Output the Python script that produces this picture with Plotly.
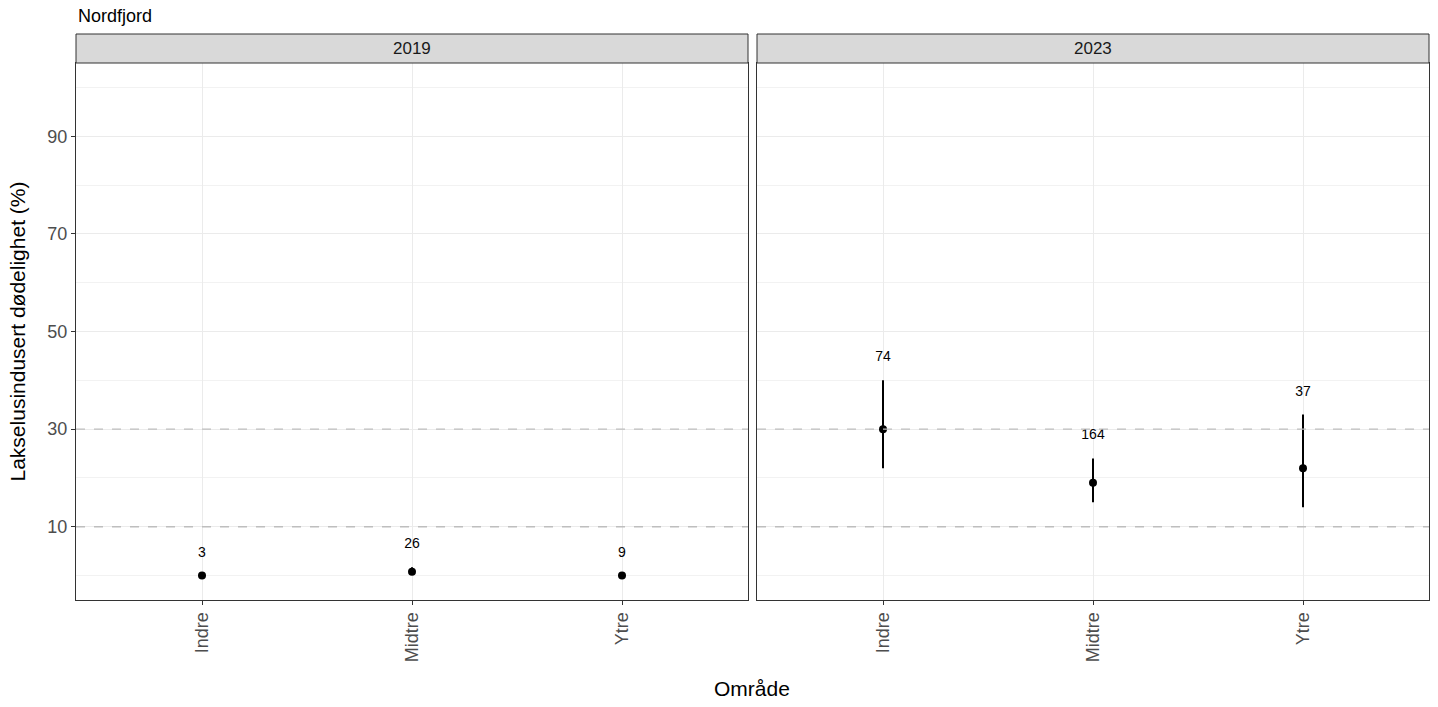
import plotly.graph_objects as go

# Data
omrader = ["Indre", "Midtre", "Ytre"]
years = ["2019", "2023"]
est_2019 = [0, 0.8, 0]
lower_2019 = [0, 0.4, 0]
upper_2019 = [0, 1.7, 0]
n_2019 = [3, 26, 9]
est_2023 = [30, 19, 22]
lower_2023 = [22, 15, 14]
upper_2023 = [40, 24, 33]
n_2023 = [74, 164, 37]
ref_lines = [10, 30]
y_ticks = [10, 30, 50, 70, 90]
y_minor = [0, 20, 40, 60, 80, 100]

FONT = "Liberation Sans, Arial, sans-serif"
W, H = 1438, 707
L, R, T, B = 76, 9, 63, 107
pw = W - L - R
ph = H - T - B

fig = go.Figure()

panels = [
    ("x", "y", est_2019, lower_2019, upper_2019, n_2019),
    ("x2", "y2", est_2023, lower_2023, upper_2023, n_2023),
]
for xa, ya, est, lo, up, n in panels:
    fig.add_trace(go.Scatter(
        x=omrader, y=est, xaxis=xa, yaxis=ya, mode="markers",
        marker=dict(color="black", size=8),
        error_y=dict(type="data", symmetric=False,
                     array=[u - e for u, e in zip(up, est)],
                     arrayminus=[e - l for e, l in zip(est, lo)],
                     color="black", thickness=2, width=0),
        showlegend=False, hoverinfo="skip"))
    fig.add_trace(go.Scatter(
        x=omrader, y=[u + 4.6 for u in up], xaxis=xa, yaxis=ya, mode="text",
        text=[str(v) for v in n], textposition="middle center",
        textfont=dict(family=FONT, size=14, color="black"),
        showlegend=False, hoverinfo="skip"))

d1 = [0, (748 - L) / pw]
d2 = [(757 - L) / pw, 1]

common_x = dict(type="category", range=[-0.6, 2.6], showgrid=True,
                gridcolor="#EBEBEB", gridwidth=1, showline=True, mirror=True,
                linecolor="#333333", linewidth=1, ticks="outside", ticklen=4,
                tickcolor="#333333", tickangle=-90, zeroline=False,
                tickfont=dict(family=FONT, size=18, color="#4D4D4D"))
common_y = dict(range=[-5, 105], tickvals=y_ticks, showgrid=True,
                gridcolor="#EBEBEB", gridwidth=1, showline=True, mirror=True,
                linecolor="#333333", linewidth=1, zeroline=False,
                minor=dict(tickvals=y_minor, showgrid=True, gridcolor="#F2F2F2", gridwidth=1),
                tickfont=dict(family=FONT, size=18, color="#4D4D4D"))

fig.update_layout(
    width=W, height=H,
    margin=dict(l=L, r=R, t=T, b=B),
    paper_bgcolor="white", plot_bgcolor="white",
    xaxis=dict(domain=d1, anchor="y", **common_x),
    xaxis2=dict(domain=d2, anchor="y2", **common_x),
    yaxis=dict(domain=[0, 1], anchor="x", ticks="outside", ticklen=4,
               tickcolor="#333333", **common_y),
    yaxis2=dict(domain=[0, 1], anchor="x2", showticklabels=False, ticks="",
                **common_y),
)

shapes = []
for xa, ya in [("x", "y"), ("x2", "y2")]:
    for v in ref_lines:
        shapes.append(dict(type="line", xref=f"{xa} domain", yref=ya,
                           x0=0, x1=1, y0=v, y1=v,
                           line=dict(color="#BEBEBE", width=1.3, dash="dash")))
    # strip
    shapes.append(dict(type="rect", xref=f"{xa} domain", yref=f"{ya} domain",
                       x0=0, x1=1, y0=1, y1=1 + 29 / ph,
                       fillcolor="#D9D9D9", line=dict(color="#333333", width=1)))

annotations = []
for xa, yr in [("x", "2019"), ("x2", "2023")]:
    annotations.append(dict(text=yr, xref=f"{xa} domain", yref="paper",
                            x=0.5, y=1 + 14.5 / ph, showarrow=False,
                            xanchor="center", yanchor="middle",
                            font=dict(family=FONT, size=17, color="#1A1A1A")))

annotations.append(dict(text="Nordfjord", xref="paper", yref="paper",
                        x=0, y=1 + (T - 16) / ph, showarrow=False,
                        xanchor="left", yanchor="middle",
                        font=dict(family=FONT, size=18, color="black")))
annotations.append(dict(text="Lakselusindusert dødelighet (%)", xref="paper", yref="paper",
                        x=(17 - L) / pw, y=0.5, showarrow=False, textangle=-90,
                        xanchor="center", yanchor="middle",
                        font=dict(family=FONT, size=21, color="black")))
annotations.append(dict(text="Område", xref="paper", yref="paper",
                        x=(752 - L) / pw, y=-(688 - (H - B)) / ph, showarrow=False,
                        xanchor="center", yanchor="middle",
                        font=dict(family=FONT, size=21, color="black")))

fig.update_layout(shapes=shapes, annotations=annotations)
fig.write_html("out.html")
